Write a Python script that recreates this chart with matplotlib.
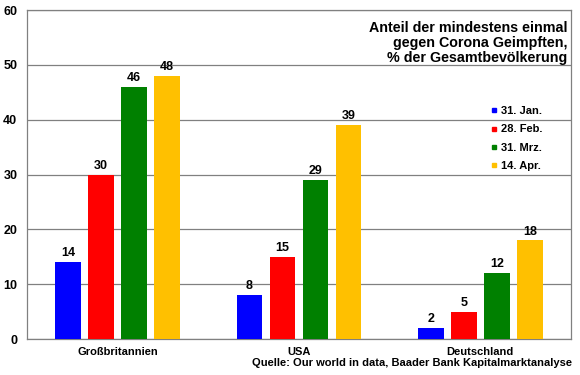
import numpy as np
import matplotlib
matplotlib.use("Agg")
import matplotlib.pyplot as plt
from matplotlib.lines import Line2D

countries = ["Großbritannien", "USA", "Deutschland"]
dates = ["31. Jan.", "28. Feb.", "31. Mrz.", "14. Apr."]
jan = [14, 8, 2]
feb = [30, 15, 5]
mrz = [46, 29, 12]
apr = [48, 39, 18]
series = [jan, feb, mrz, apr]
colors = ["#0000FF", "#FF0000", "#008000", "#FFC000"]

plt.rcParams["font.family"] = ["Liberation Sans", "DejaVu Sans"]
plt.rcParams["font.weight"] = "bold"

fig = plt.figure(figsize=(5.8, 3.75), dpi=100)
ax = fig.add_axes([0.0466, 0.096, 0.9379, 0.8773])

x = np.arange(len(countries))
width = 0.143
step = 0.182
for i, (vals, col) in enumerate(zip(series, colors)):
    pos = x + (i - 1.5) * step
    ax.bar(pos, vals, width, color=col, zorder=3)
    for px, v in zip(pos, vals):
        ax.annotate(str(v), (px, v), textcoords="offset points", xytext=(0, 2),
                    ha="center", va="bottom", fontsize=9, fontweight="bold")

ax.set_xlim(-0.5, 2.5)
ax.set_ylim(0, 60)
ax.set_yticks(range(0, 61, 10))
ax.set_xticks(x)
ax.set_xticklabels(countries, fontsize=8, fontweight="bold")
ax.tick_params(axis="y", labelsize=9, length=0, pad=7)
ax.tick_params(axis="x", length=0, pad=6)
ax.grid(axis="y", color="#808080", lw=0.9, zorder=0)
for s in ax.spines.values():
    s.set_color("#808080")
    s.set_linewidth(0.9)

# title sits inside the plot, top right
ax.text(0.993, 0.968, "Anteil der mindestens einmal\ngegen Corona Geimpften,\n% der Gesamtbevölkerung",
        transform=ax.transAxes, ha="right", va="top", fontsize=10.3, fontweight="bold",
        linespacing=1.12, zorder=5)

handles = [Line2D([], [], marker="s", ls="none", color=c, markersize=3.5) for c in colors]
fig.legend(handles, dates, loc="upper left", bbox_to_anchor=(0.846, 0.717),
           frameon=False, fontsize=8, handlelength=0.6, handletextpad=0.3,
           labelspacing=0.75, borderaxespad=0, borderpad=0)

fig.text(0.986, 0.02, "Quelle: Our world in data, Baader Bank Kapitalmarktanalyse",
         ha="right", va="bottom", fontsize=8, fontweight="bold")

fig.savefig("out.png", dpi=100)
